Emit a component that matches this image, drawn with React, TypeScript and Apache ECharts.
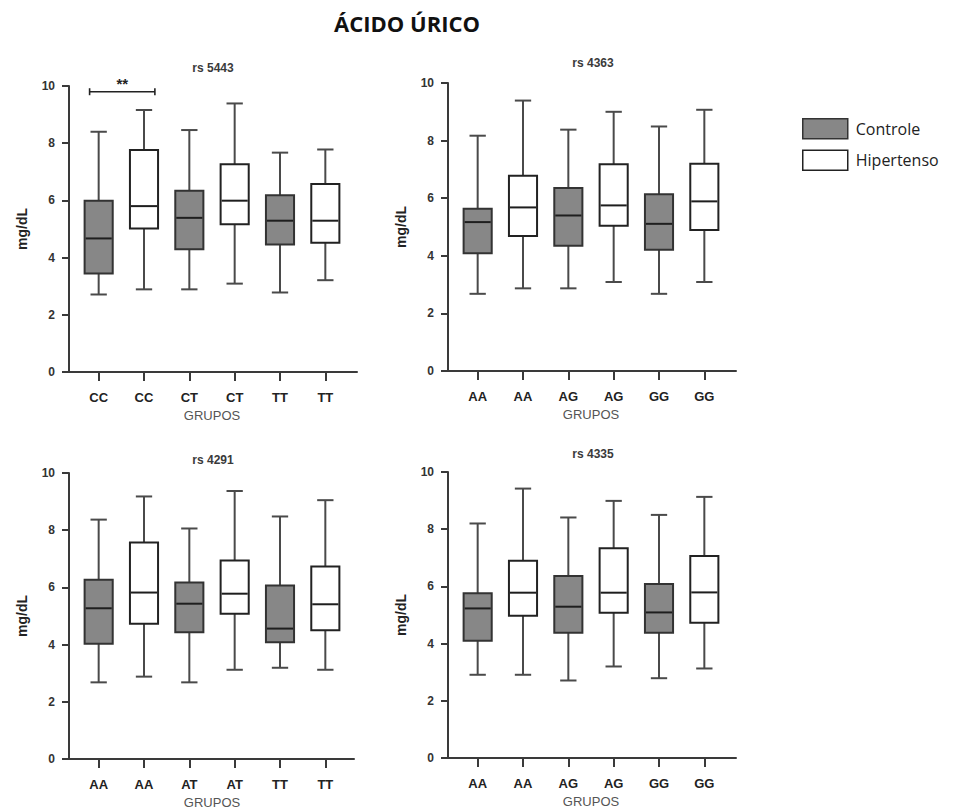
import React, { useEffect, useRef } from 'react';
import * as echarts from 'echarts';

// ---------------- data ----------------
const MAIN_TITLE = 'ÁCIDO ÚRICO';
const GROUPS = ['Controle', 'Hipertenso'];
const PANEL_TITLES = ['rs 5443', 'rs 4363', 'rs 4291', 'rs 4335'];
const X_NAME = 'GRUPOS';
const Y_NAME = 'mg/dL';
const Y_MIN = 0;
const Y_MAX = 10;
const Y_INTERVAL = 2;

const CATEGORIES_5443 = ['CC', 'CC', 'CT', 'CT', 'TT', 'TT'];
const CATEGORIES_4363 = ['AA', 'AA', 'AG', 'AG', 'GG', 'GG'];
const CATEGORIES_4291 = ['AA', 'AA', 'AT', 'AT', 'TT', 'TT'];
const CATEGORIES_4335 = ['AA', 'AA', 'AG', 'AG', 'GG', 'GG'];

// group of each box, in category order (0 = Controle, 1 = Hipertenso)
const BOX_GROUP = [0, 1, 0, 1, 0, 1];

// [min, Q1, median, Q3, max]
const BOXES_5443 = [
  [2.71, 3.44, 4.67, 5.99, 8.4],
  [2.89, 5.02, 5.8, 7.76, 9.16],
  [2.89, 4.29, 5.39, 6.34, 8.46],
  [3.09, 5.17, 5.99, 7.26, 9.39],
  [2.78, 4.46, 5.29, 6.18, 7.67],
  [3.21, 4.52, 5.29, 6.57, 7.78],
];
const BOXES_4363 = [
  [2.68, 4.09, 5.17, 5.63, 8.17],
  [2.87, 4.69, 5.68, 6.78, 9.39],
  [2.87, 4.35, 5.4, 6.35, 8.38],
  [3.09, 5.04, 5.75, 7.18, 9.0],
  [2.68, 4.21, 5.11, 6.14, 8.49],
  [3.09, 4.9, 5.89, 7.2, 9.07],
];
const BOXES_4291 = [
  [2.68, 4.03, 5.27, 6.27, 8.37],
  [2.88, 4.73, 5.82, 7.57, 9.18],
  [2.68, 4.43, 5.43, 6.17, 8.06],
  [3.12, 5.08, 5.78, 6.94, 9.37],
  [3.19, 4.08, 4.56, 6.07, 8.48],
  [3.12, 4.5, 5.41, 6.73, 9.05],
];
const BOXES_4335 = [
  [2.91, 4.1, 5.23, 5.76, 8.2],
  [2.91, 4.97, 5.78, 6.9, 9.42],
  [2.71, 4.38, 5.29, 6.36, 8.41],
  [3.2, 5.08, 5.78, 7.33, 8.99],
  [2.79, 4.38, 5.09, 6.08, 8.5],
  [3.13, 4.73, 5.79, 7.06, 9.13],
];

// significance bars: panel index, from/to category index, height, label
const SIGNIFICANCE = [{ panel: 0, from: 0, to: 1, y: 9.8, label: '**' }];

// ---------------- layout / style ----------------
const PANELS = [
  { categories: CATEGORIES_5443, boxes: BOXES_5443 },
  { categories: CATEGORIES_4363, boxes: BOXES_4363 },
  { categories: CATEGORIES_4291, boxes: BOXES_4291 },
  { categories: CATEGORIES_4335, boxes: BOXES_4335 },
];
const LAYOUT = [
  { axisX: 69, top: 86, bottom: 372, right: 357, titleX: 213, titleY: 68 },
  { axisX: 448, top: 83, bottom: 371, right: 736, titleX: 593, titleY: 63 },
  { axisX: 69, top: 473, bottom: 759, right: 354, titleX: 213, titleY: 460 },
  { axisX: 448, top: 472, bottom: 758, right: 736, titleX: 593, titleY: 454 },
];
const FILLS = ['#878787', '#ffffff'];
const BORDERS = ['#333333', '#222222'];
const AXIS_COLOR = '#3a3a3a';
const FONT = 'Liberation Sans, Arial, sans-serif';

const boxRenderer = (fill: string, border: string) => (params: any, api: any) => {
  const x = api.value(0);
  const lo = api.coord([x, api.value(1)]);
  const q1 = api.coord([x, api.value(2)]);
  const md = api.coord([x, api.value(3)]);
  const q3 = api.coord([x, api.value(4)]);
  const hi = api.coord([x, api.value(5)]);
  const band = api.size([1, 0])[0];
  const bw = band * 0.62;
  const cw = band * 0.36;
  const cx = md[0];
  const whisk = { stroke: '#4a4a4a', lineWidth: 2 };
  return {
    type: 'group',
    children: [
      { type: 'line', shape: { x1: cx, y1: q3[1], x2: cx, y2: hi[1] }, style: whisk },
      { type: 'line', shape: { x1: cx, y1: q1[1], x2: cx, y2: lo[1] }, style: whisk },
      { type: 'line', shape: { x1: cx - cw / 2, y1: hi[1], x2: cx + cw / 2, y2: hi[1] }, style: whisk },
      { type: 'line', shape: { x1: cx - cw / 2, y1: lo[1], x2: cx + cw / 2, y2: lo[1] }, style: whisk },
      {
        type: 'rect',
        shape: { x: cx - bw / 2, y: q3[1], width: bw, height: q1[1] - q3[1] },
        style: { fill, stroke: border, lineWidth: 2 },
      },
      {
        type: 'line',
        shape: { x1: cx - bw / 2 + 1, y1: md[1], x2: cx + bw / 2 - 1, y2: md[1] },
        style: { stroke: '#1e1e1e', lineWidth: 2 },
      },
    ],
  };
};

const sigRenderer = (params: any, api: any) => {
  const a = api.coord([api.value(0), api.value(2)]);
  const b = api.coord([api.value(1), api.value(2)]);
  const band = api.size([1, 0])[0];
  const x1 = a[0] - band * 0.2;
  const x2 = b[0] + band * 0.24;
  const y = a[1];
  const st = { stroke: '#222', lineWidth: 1.6 };
  const label = SIGNIFICANCE[params.dataIndex].label;
  return {
    type: 'group',
    children: [
      { type: 'line', shape: { x1, y1: y, x2, y2: y }, style: st },
      { type: 'line', shape: { x1, y1: y - 3.5, x2: x1, y2: y + 3.5 }, style: st },
      { type: 'line', shape: { x1: x2, y1: y - 3.5, x2, y2: y + 3.5 }, style: st },
      {
        type: 'text',
        x: (x1 + x2) / 2,
        y: y - 8,
        style: {
          text: label,
          align: 'center',
          verticalAlign: 'middle',
          textAlign: 'center',
          textVerticalAlign: 'middle',
          fontSize: 15,
          fontWeight: 'bold',
          fontFamily: FONT,
          fill: '#222',
        },
      },
    ],
  };
};

function buildOption() {
  const grid: any[] = [];
  const xAxis: any[] = [];
  const yAxis: any[] = [];
  const series: any[] = [];
  const graphic: any[] = [];

  graphic.push({
    type: 'text',
    x: 407,
    y: 23,
    style: {
      text: MAIN_TITLE,
      align: 'center',
      verticalAlign: 'middle',
      textAlign: 'center',
      textVerticalAlign: 'middle',
      fontSize: 22,
      fontWeight: 'bold',
      fontFamily: 'Open Sans, sans-serif',
      fill: '#111',
    },
  });

  PANELS.forEach((panel, p) => {
    const L = LAYOUT[p];
    const height = L.bottom - L.top;
    const gA = 2 * p;
    const gB = 2 * p + 1;
    // grid A: axis lines
    grid.push({ left: L.axisX, top: L.top, width: L.right - L.axisX, height });
    // grid B: boxes and category ticks
    grid.push({ left: L.axisX + 7, top: L.top, width: 272, height });

    xAxis.push({
      gridIndex: gA,
      type: 'value',
      min: 0,
      max: 1,
      axisLine: { show: true, onZero: false, lineStyle: { color: AXIS_COLOR, width: 2 } },
      axisTick: { show: false },
      axisLabel: { show: false },
      splitLine: { show: false },
    });
    xAxis.push({
      gridIndex: gB,
      type: 'category',
      data: panel.categories,
      boundaryGap: true,
      axisLine: { show: false },
      axisTick: { show: true, alignWithLabel: true, length: 9, lineStyle: { color: AXIS_COLOR, width: 2 } },
      axisLabel: {
        show: true,
        interval: 0,
        margin: 19,
        fontSize: 13,
        fontWeight: 'bold',
        fontFamily: FONT,
        color: '#222',
      },
      name: X_NAME,
      nameLocation: 'middle',
      nameGap: 37,
      nameTextStyle: { fontSize: 13, fontFamily: FONT, color: '#555' },
      splitLine: { show: false },
    });

    yAxis.push({
      gridIndex: gA,
      type: 'value',
      min: Y_MIN,
      max: Y_MAX,
      interval: Y_INTERVAL,
      axisLine: { show: true, lineStyle: { color: AXIS_COLOR, width: 2 } },
      axisTick: { show: true, length: 7, lineStyle: { color: AXIS_COLOR, width: 2 } },
      axisLabel: { margin: 14, fontSize: 12, fontWeight: 'bold', fontFamily: FONT, color: '#333' },
      splitLine: { show: false },
      name: Y_NAME,
      nameLocation: 'middle',
      nameGap: 40,
      nameTextStyle: { fontSize: 14, fontWeight: 'bold', fontFamily: FONT, color: '#222' },
    });
    yAxis.push({
      gridIndex: gB,
      type: 'value',
      min: Y_MIN,
      max: Y_MAX,
      show: false,
    });

    GROUPS.forEach((g, gi) => {
      const data = panel.boxes
        .map((b, i) => ({ i, b }))
        .filter(({ i }) => BOX_GROUP[i] === gi)
        .map(({ i, b }) => [i, ...b]);
      series.push({
        type: 'custom',
        name: g,
        xAxisIndex: gB,
        yAxisIndex: gB,
        itemStyle: { color: FILLS[gi], borderColor: BORDERS[gi], borderWidth: 1.5 },
        encode: { x: 0, y: [1, 2, 3, 4, 5] },
        data,
        renderItem: boxRenderer(FILLS[gi], BORDERS[gi]),
      });
    });

    const sig = SIGNIFICANCE.filter((s) => s.panel === p);
    if (sig.length) {
      series.push({
        type: 'custom',
        name: 'significance',
        xAxisIndex: gB,
        yAxisIndex: gB,
        encode: { x: [0, 1], y: 2 },
        data: sig.map((s) => [s.from, s.to, s.y]),
        renderItem: sigRenderer,
      });
    }

    graphic.push({
      type: 'text',
      x: L.titleX,
      y: L.titleY,
      style: {
        text: PANEL_TITLES[p],
        align: 'center',
        verticalAlign: 'middle',
        textAlign: 'center',
        textVerticalAlign: 'middle',
        fontSize: 12,
        fontWeight: 'bold',
        fontFamily: FONT,
        fill: '#3a3a3a',
      },
    });
  });

  return {
    animation: false,
    backgroundColor: '#ffffff',
    grid,
    xAxis,
    yAxis,
    series,
    graphic,
    legend: {
      orient: 'vertical',
      left: 797,
      top: 113,
      itemWidth: 45,
      itemHeight: 20,
      itemGap: 10,
      selectedMode: false,
      textStyle: { fontSize: 16, fontFamily: 'Open Sans, sans-serif', color: '#222', padding: [0, 0, 0, 3] },
      data: GROUPS.map((g, gi) => ({
        name: g,
        icon: 'rect',
        itemStyle: { color: FILLS[gi], borderColor: BORDERS[gi], borderWidth: 1.5 },
      })),
    },
  };
}

export default function App() {
  const ref = useRef<HTMLDivElement>(null);
  useEffect(() => {
    if (!ref.current) return;
    const chart = echarts.init(ref.current, undefined, { renderer: 'svg' });
    chart.setOption(buildOption() as any);
    return () => chart.dispose();
  }, []);
  return (
    <div
      ref={ref}
      style={{ position: 'fixed', left: 0, top: 0, width: 958, height: 810, background: '#fff' }}
    />
  );
}
